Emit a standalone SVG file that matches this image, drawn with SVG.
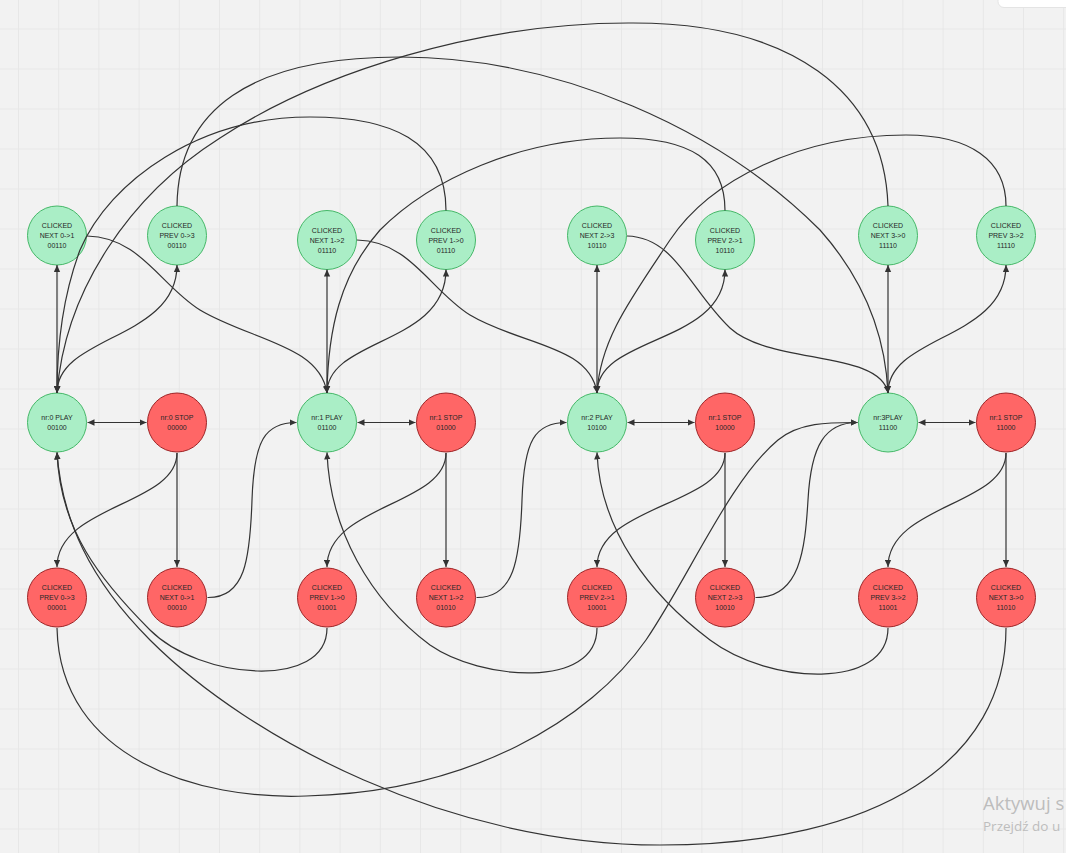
<svg xmlns="http://www.w3.org/2000/svg" width="1066" height="853" viewBox="0 0 1066 853">
  <defs>
    <pattern id="grid" width="40.2" height="40" patternUnits="userSpaceOnUse" x="18" y="28.5">
      <path d="M0,0.5 H40.2 M0.5,0 V40" fill="none" stroke="#e7e7e7" stroke-width="1"/>
    </pattern>
    <marker id="ah" viewBox="0 0 10 10" refX="10" refY="5" markerWidth="7" markerHeight="7" markerUnits="userSpaceOnUse" orient="auto-start-reverse">
      <path d="M0,0.5 L10,5 L0,9.5 z" fill="#333"/>
    </marker>
    <style>
      .play circle { fill: #aaeec6; stroke: #45b868; stroke-width: 1; }
      .stop circle { fill: #ff6666; stroke: #9e2426; stroke-width: 1; }
      .node text { font-family: "Liberation Sans", Arial, sans-serif; font-size: 7px; fill: #262626; text-anchor: middle; dominant-baseline: central; }
      .edge { fill: none; stroke: #333; stroke-width: 1.2; marker-end: url(#ah); }
      .both { marker-start: url(#ah); }
      .wm { font-family: "Open Sans", "Liberation Sans", sans-serif; fill: #bdbdbd; }
    </style>
  </defs>

  <!-- canvas -->
  <rect x="0" y="0" width="1066" height="853" fill="#f2f2f2"/>
  <rect x="0" y="0" width="1066" height="853" fill="url(#grid)"/>
  <rect x="998" y="-10" width="80" height="17.5" rx="6" fill="#ffffff" stroke="#e4e4e4"/>

  <!-- top row: clicked while playing -->
  <g id="play-next-0-1" class="node play"><circle cx="57" cy="235.5" r="29.5"/>
    <text x="57" y="225.5">CLICKED</text><text x="57" y="235.5">NEXT 0-&gt;1</text><text x="57" y="245.5">00110</text></g>
  <g id="play-prev-0-3" class="node play"><circle cx="177" cy="235.5" r="29.5"/>
    <text x="177" y="225.5">CLICKED</text><text x="177" y="235.5">PREV 0-&gt;3</text><text x="177" y="245.5">00110</text></g>
  <g id="play-next-1-2" class="node play"><circle cx="327" cy="240" r="29.5"/>
    <text x="327" y="230">CLICKED</text><text x="327" y="240">NEXT 1-&gt;2</text><text x="327" y="250">01110</text></g>
  <g id="play-prev-1-0" class="node play"><circle cx="446" cy="240" r="29.5"/>
    <text x="446" y="230">CLICKED</text><text x="446" y="240">PREV 1-&gt;0</text><text x="446" y="250">01110</text></g>
  <g id="play-next-2-3" class="node play"><circle cx="597" cy="235.5" r="29.5"/>
    <text x="597" y="225.5">CLICKED</text><text x="597" y="235.5">NEXT 2-&gt;3</text><text x="597" y="245.5">10110</text></g>
  <g id="play-prev-2-1" class="node play"><circle cx="725" cy="240" r="29.5"/>
    <text x="725" y="230">CLICKED</text><text x="725" y="240">PREV 2-&gt;1</text><text x="725" y="250">10110</text></g>
  <g id="play-next-3-0" class="node play"><circle cx="888" cy="235.5" r="29.5"/>
    <text x="888" y="225.5">CLICKED</text><text x="888" y="235.5">NEXT 3-&gt;0</text><text x="888" y="245.5">11110</text></g>
  <g id="play-prev-3-2" class="node play"><circle cx="1006" cy="235.5" r="29.5"/>
    <text x="1006" y="225.5">CLICKED</text><text x="1006" y="235.5">PREV 3-&gt;2</text><text x="1006" y="245.5">11110</text></g>

  <!-- middle row: track states -->
  <g id="nr0-play" class="node play"><circle cx="57" cy="422.5" r="29.5"/>
    <text x="57" y="417.5">nr:0 PLAY</text><text x="57" y="427.5">00100</text></g>
  <g id="nr0-stop" class="node stop"><circle cx="177" cy="422.5" r="29.5"/>
    <text x="177" y="417.5">nr:0 STOP</text><text x="177" y="427.5">00000</text></g>
  <g id="nr1-play" class="node play"><circle cx="327" cy="422.5" r="29.5"/>
    <text x="327" y="417.5">nr:1 PLAY</text><text x="327" y="427.5">01100</text></g>
  <g id="nr1-stop" class="node stop"><circle cx="446" cy="422.5" r="29.5"/>
    <text x="446" y="417.5">nr:1 STOP</text><text x="446" y="427.5">01000</text></g>
  <g id="nr2-play" class="node play"><circle cx="597" cy="422.5" r="29.5"/>
    <text x="597" y="417.5">nr:2 PLAY</text><text x="597" y="427.5">10100</text></g>
  <g id="nr2-stop" class="node stop"><circle cx="725" cy="422.5" r="29.5"/>
    <text x="725" y="417.5">nr:1 STOP</text><text x="725" y="427.5">10000</text></g>
  <g id="nr3-play" class="node play"><circle cx="888" cy="422.5" r="29.5"/>
    <text x="888" y="417.5">nr:3PLAY</text><text x="888" y="427.5">11100</text></g>
  <g id="nr3-stop" class="node stop"><circle cx="1006" cy="422.5" r="29.5"/>
    <text x="1006" y="417.5">nr:1 STOP</text><text x="1006" y="427.5">11000</text></g>

  <!-- bottom row: clicked while stopped -->
  <g id="stop-prev-0-3" class="node stop"><circle cx="57" cy="597.5" r="29.5"/>
    <text x="57" y="587.5">CLICKED</text><text x="57" y="597.5">PREV 0-&gt;3</text><text x="57" y="607.5">00001</text></g>
  <g id="stop-next-0-1" class="node stop"><circle cx="177" cy="597.5" r="29.5"/>
    <text x="177" y="587.5">CLICKED</text><text x="177" y="597.5">NEXT 0-&gt;1</text><text x="177" y="607.5">00010</text></g>
  <g id="stop-prev-1-0" class="node stop"><circle cx="327" cy="597.5" r="29.5"/>
    <text x="327" y="587.5">CLICKED</text><text x="327" y="597.5">PREV 1-&gt;0</text><text x="327" y="607.5">01001</text></g>
  <g id="stop-next-1-2" class="node stop"><circle cx="446" cy="597.5" r="29.5"/>
    <text x="446" y="587.5">CLICKED</text><text x="446" y="597.5">NEXT 1-&gt;2</text><text x="446" y="607.5">01010</text></g>
  <g id="stop-prev-2-1" class="node stop"><circle cx="597" cy="597.5" r="29.5"/>
    <text x="597" y="587.5">CLICKED</text><text x="597" y="597.5">PREV 2-&gt;1</text><text x="597" y="607.5">10001</text></g>
  <g id="stop-next-2-3" class="node stop"><circle cx="725" cy="597.5" r="29.5"/>
    <text x="725" y="587.5">CLICKED</text><text x="725" y="597.5">NEXT 2-&gt;3</text><text x="725" y="607.5">10010</text></g>
  <g id="stop-prev-3-2" class="node stop"><circle cx="888" cy="597.5" r="29.5"/>
    <text x="888" y="587.5">CLICKED</text><text x="888" y="597.5">PREV 3-&gt;2</text><text x="888" y="607.5">11001</text></g>
  <g id="stop-next-3-0" class="node stop"><circle cx="1006" cy="597.5" r="29.5"/>
    <text x="1006" y="587.5">CLICKED</text><text x="1006" y="597.5">NEXT 3-&gt;0</text><text x="1006" y="607.5">11010</text></g>

  <g id="connectors">
    <!-- play <-> clicked next (vertical) -->
    <path class="edge both" d="M57,393 V265"/>
    <path class="edge both" d="M327,393 V269.5"/>
    <path class="edge both" d="M597,393 V265"/>
    <path class="edge both" d="M888,393 V265"/>
    <!-- play -> clicked prev -->
    <path class="edge" d="M57,393 C57,335 177,340 177,265"/>
    <path class="edge" d="M327,393 C327,338 446,345 446,269.5"/>
    <path class="edge" d="M597,393 C597,335 725,345 725,269.5"/>
    <path class="edge" d="M888,393 C888,335 1006,340 1006,265"/>
    <!-- clicked next (playing) -> next play -->
    <path class="edge" d="M87,236 C140,237 160,285 200,310 C250,340 320,345 327,393"/>
    <path class="edge" d="M357,240 C410,241 430,290 470,315 C520,345 590,345 597,393"/>
    <path class="edge" d="M627,236 C675,237 690,290 730,328 C770,365 880,350 888,393"/>
    <path class="edge" d="M888,206 C884,90 790,23 633,23 C480,22 320,72 220,138 C130,195 65,290 57,393"/>
    <!-- clicked prev (playing) -> previous play -->
    <path class="edge" d="M177,206 C178,110 250,57 400,57 C560,57 720,130 820,230 C860,275 885,330 888,393"/>
    <path class="edge" d="M446,210.5 C446,140 390,117 310,117 C200,117 110,180 80,250 C65,290 57,340 57,393"/>
    <path class="edge" d="M725,210.5 C725,160 690,138 620,138 C520,138 430,180 380,230 C340,275 328,330 327,393"/>
    <path class="edge" d="M1006,206 C1006,160 970,135 906,135 C800,135 710,180 670,240 C630,300 600,340 597,393"/>
    <!-- play <-> stop -->
    <path class="edge both" d="M87.5,422.5 H146.5"/>
    <path class="edge both" d="M357.5,422.5 H415.5"/>
    <path class="edge both" d="M627.5,422.5 H694.5"/>
    <path class="edge both" d="M918.5,422.5 H975.5"/>
    <!-- stop -> clicked next (vertical) -->
    <path class="edge" d="M177,453 V567"/>
    <path class="edge" d="M446,453 V567"/>
    <path class="edge" d="M725,453 V567"/>
    <path class="edge" d="M1006,453 V567"/>
    <!-- stop -> clicked prev -->
    <path class="edge" d="M177,453 C177,505 57,505 57,567"/>
    <path class="edge" d="M446,453 C446,505 327,505 327,567"/>
    <path class="edge" d="M725,453 C725,505 597,505 597,567"/>
    <path class="edge" d="M1006,453 C1006,505 888,505 888,567"/>
    <!-- clicked next (stopped) -> next play -->
    <path class="edge" d="M207.5,597.5 C245,598 250,560 252,500 C254,440 265,422.5 296.5,422.5"/>
    <path class="edge" d="M476.5,597.5 C514,598 520,560 522,500 C524,440 535,422.5 566.5,422.5"/>
    <path class="edge" d="M755.5,597.5 C800,598 805,550 808,500 C811,445 825,422.5 857.5,422.5"/>
    <path class="edge" d="M1006,628 C1006,760 880,845 660,845 C450,845 250,740 150,640 C90,580 62,520 57,452.5"/>
    <!-- clicked prev (stopped) -> previous play -->
    <path class="edge" d="M57,628 C60,760 200,800 306,796 C470,792 590,720 646,640 C690,575 730,480 778,440 C800,422 830,422.5 857.5,422.5"/>
    <path class="edge" d="M327,628 C327,690 200,680 150,630 C100,580 60,530 57,452.5"/>
    <path class="edge" d="M597,628 C597,690 480,680 430,645 C370,600 330,530 327,452.5"/>
    <path class="edge" d="M888,628 C888,690 770,685 710,640 C650,595 600,530 597,452.5"/>
  </g>

  <!-- system overlay text -->
  <text class="wm" x="983" y="810" font-size="18.5">Aktywuj s</text>
  <text class="wm" x="983" y="831" font-size="13.5">Przejdź do u</text>
</svg>
